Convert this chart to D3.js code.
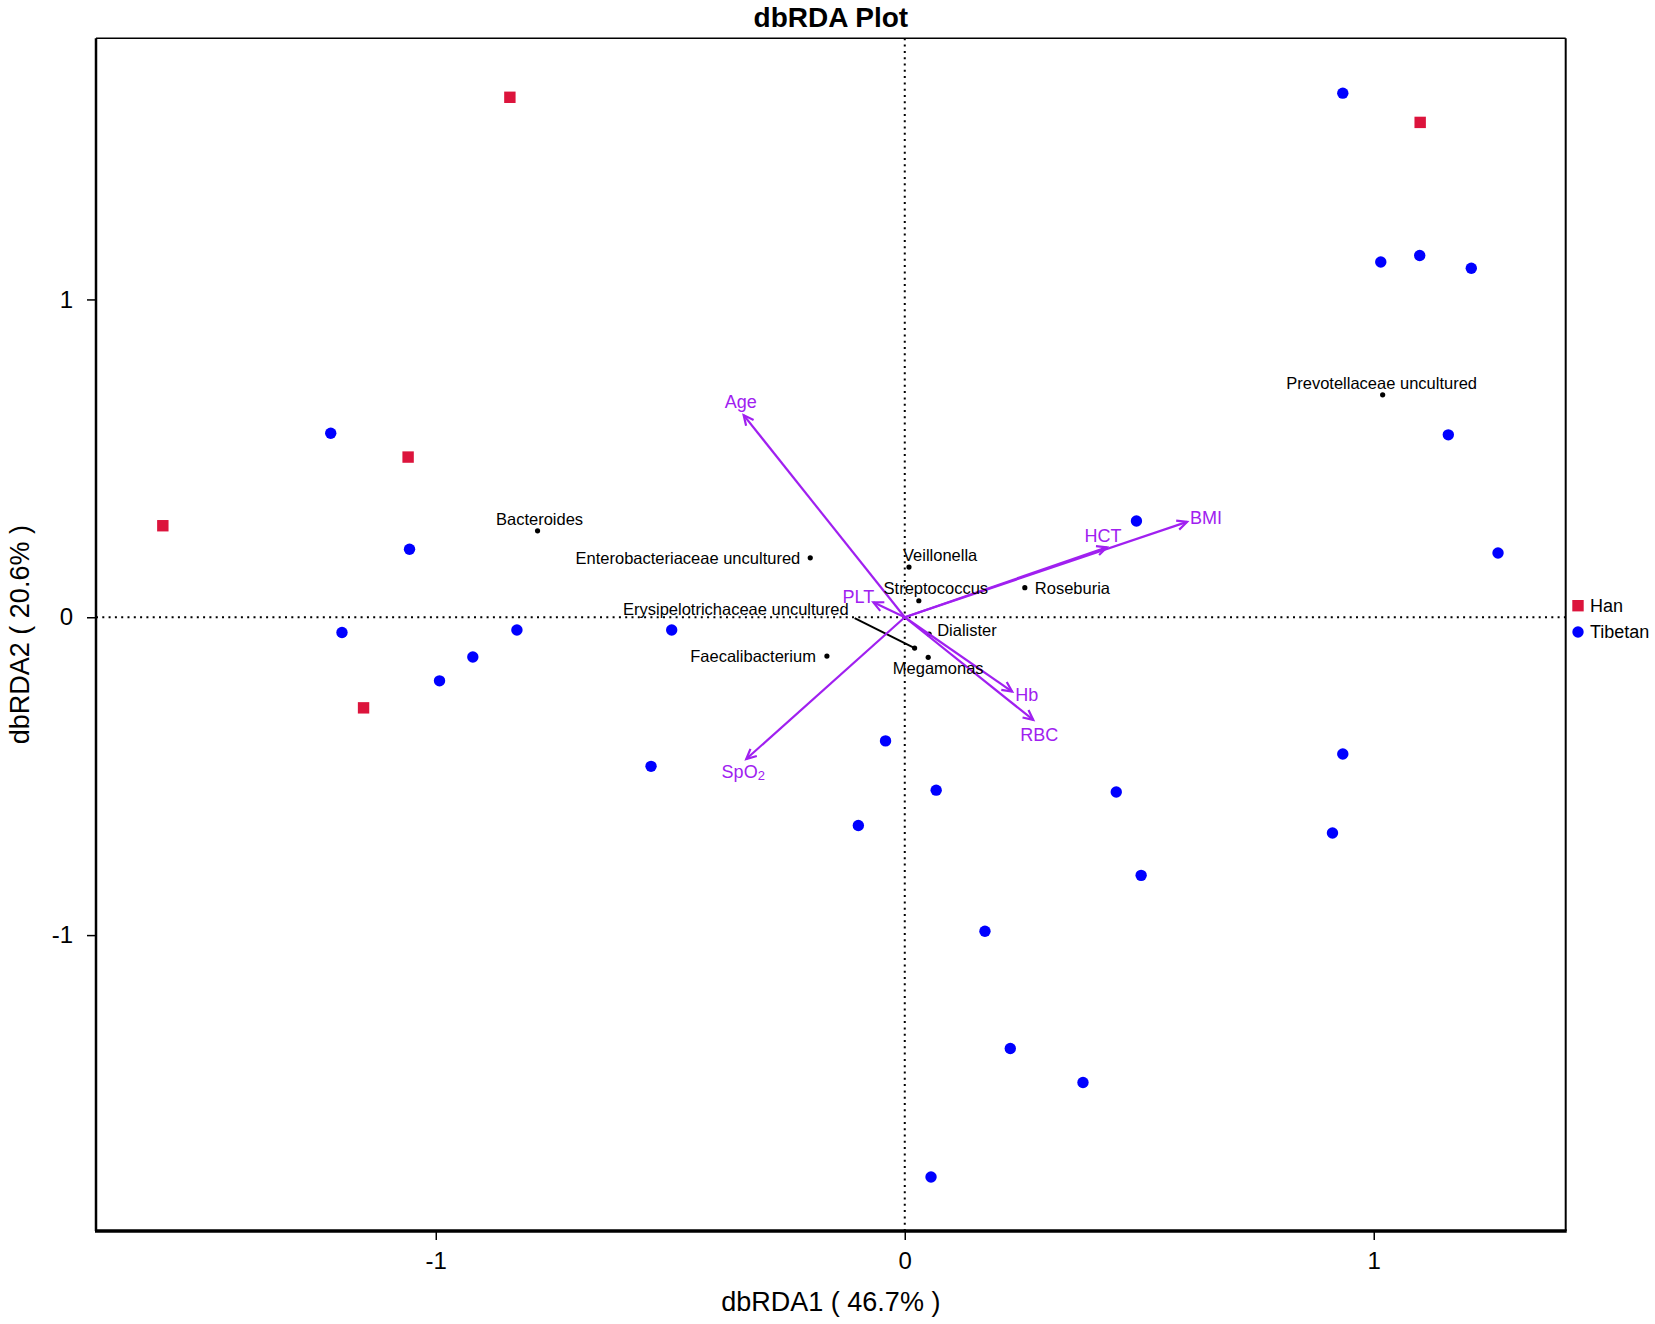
<!DOCTYPE html>
<html>
<head>
<meta charset="utf-8">
<script src="https://cdn.jsdelivr.net/npm/d3@7"></script>
<style>
  body { margin: 0; background: #fff; }
  svg text { font-family: "Liberation Sans", Arial, sans-serif; }
</style>
</head>
<body>
<svg id="chart" width="1655" height="1324"></svg>
<script>
// sample scores (dbRDA1, dbRDA2)
var hanX = [-0.842, 1.099, -1.059, -1.582, -1.154]
var hanY = [1.636, 1.557, 0.504, 0.288, -0.285]

var tibetanX = [0.934, 1.015, 1.098, 1.208, 1.159, 1.265, 0.494,
    -1.224, -1.056, -1.200, -0.827, -0.921, -0.992, -0.497, -0.541,
    -0.041, 0.067, -0.099, 0.451, 0.504, 0.934, 0.912, 0.171, 0.225, 0.380, 0.056]
var tibetanY = [1.649, 1.118, 1.138, 1.098, 0.574, 0.202, 0.303,
    0.579, 0.214, -0.048, -0.040, -0.125, -0.200, -0.040, -0.469,
    -0.389, -0.544, -0.655, -0.550, -0.812, -0.430, -0.679, -0.988, -1.357, -1.464, -1.761]

// environmental factor arrows
var envNames = ['Age', 'BMI', 'HCT', 'PLT', 'Hb', 'RBC', 'SpO2']
var envX = [-0.3435, 0.602, 0.431, -0.067, 0.229, 0.274, -0.338]
var envY = [0.636, 0.300, 0.220, 0.047, -0.234, -0.323, -0.446]

// genus scores
var genusNames = ['Bacteroides', 'Enterobacteriaceae uncultured', 'Veillonella', 'Streptococcus',
    'Roseburia', 'Dialister', 'Erysipelotrichaceae uncultured', 'Megamonas',
    'Faecalibacterium', 'Prevotellaceae uncultured']
var genusX = [-0.783, -0.2015, 0.009, 0.030, 0.256, 0.052, 0.021, 0.050, -0.166, 1.019]
var genusY = [0.272, 0.187, 0.158, 0.052, 0.093, -0.053, -0.097, -0.126, -0.122, 0.700]

var xTicks = [-1, 0, 1]
var yTicks = [-1, 0, 1]
var xDomain = [-1.7245, 1.4093]
var yDomain = [-1.931, 1.8216]

var groups = ['Han', 'Tibetan']
var groupColors = ['#DC143C', '#0000FF']
var purple = '#A020F0'

// label placement relative to the mark (px)
var envLabelPos = {
    Age: [-3, -13, 'middle'], BMI: [3, -4, 'start'], HCT: [-4, -11, 'middle'],
    PLT: [-15, -5, 'middle'], Hb: [3, 3, 'start'], RBC: [6, 15, 'middle'], SpO2: [-3, 13, 'middle']
}
var genusLabelPos = {
    'Bacteroides': [2, -12, 'middle'],
    'Enterobacteriaceae uncultured': [-10, 0, 'end'],
    'Veillonella': [-6, -12, 'start'],
    'Streptococcus': [17, -13, 'middle'],
    'Roseburia': [10, 0, 'start'],
    'Dialister': [8, -4, 'start'],
    'Erysipelotrichaceae uncultured': [-66, -39, 'end'],
    'Megamonas': [10, 11, 'middle'],
    'Faecalibacterium': [-11, 0, 'end'],
    'Prevotellaceae uncultured': [-1, -12, 'middle']
}

var plotLeft = 96, plotRight = 1565.7, plotTop = 38.3, plotBottom = 1231

var svg = d3.select('#chart')

var xScale = d3.scaleLinear().domain(xDomain).range([plotLeft, plotRight])
var yScale = d3.scaleLinear().domain(yDomain).range([plotBottom, plotTop])

// reference lines through the origin
svg.append('line')
    .attr('x1', plotLeft).attr('x2', plotRight)
    .attr('y1', yScale(0)).attr('y2', yScale(0))
    .style('stroke', '#000').style('stroke-width', 2)
    .style('stroke-dasharray', '2,4.3')
svg.append('line')
    .attr('x1', xScale(0)).attr('x2', xScale(0))
    .attr('y1', plotTop).attr('y2', plotBottom)
    .style('stroke', '#000').style('stroke-width', 2)
    .style('stroke-dasharray', '2,4.3')

// axes
var fmt = function (d) { return String(d) }
var xAxis = svg.append('g')
    .attr('transform', 'translate(0,' + plotBottom + ')')
    .call(d3.axisBottom(xScale).tickValues(xTicks).tickFormat(fmt).tickSize(9).tickPadding(12).tickSizeOuter(0))
var yAxis = svg.append('g')
    .attr('transform', 'translate(' + plotLeft + ',0)')
    .call(d3.axisLeft(yScale).tickValues(yTicks).tickFormat(fmt).tickSize(9).tickPadding(14).tickSizeOuter(0))
xAxis.select('.domain').remove()
yAxis.select('.domain').remove()
svg.selectAll('.tick line').style('stroke', '#000').style('stroke-width', 1.5)
svg.selectAll('.tick text').style('font-size', '24px').style('fill', '#000')
    .style('font-family', '"Liberation Sans", Arial, sans-serif')

// frame
svg.append('line').attr('x1', plotLeft).attr('x2', plotRight).attr('y1', plotTop).attr('y2', plotTop)
    .style('stroke', '#000').style('stroke-width', 1.6)
svg.append('line').attr('x1', plotRight).attr('x2', plotRight).attr('y1', plotTop).attr('y2', plotBottom)
    .style('stroke', '#000').style('stroke-width', 2)
svg.append('line').attr('x1', plotLeft).attr('x2', plotLeft).attr('y1', plotTop).attr('y2', plotBottom)
    .style('stroke', '#000').style('stroke-width', 2.5)
svg.append('line').attr('x1', plotLeft - 1).attr('x2', plotRight + 1).attr('y1', plotBottom).attr('y2', plotBottom)
    .style('stroke', '#000').style('stroke-width', 3.5)

// genus dots (under the arrows)
var genusDots = svg.append('g')
var genusText = null
genusNames.forEach(function (name, i) {
    var gx = xScale(genusX[i]), gy = yScale(genusY[i])
    if (name === 'Erysipelotrichaceae uncultured') {
        genusDots.append('line')
            .attr('x1', gx - 60).attr('y1', gy - 30).attr('x2', gx).attr('y2', gy)
            .style('stroke', '#000').style('stroke-width', 2)
    }
    genusDots.append('circle')
        .attr('cx', gx).attr('cy', gy).attr('r', 2.6)
        .style('fill', '#000')
})

// env arrows
var arrows = svg.append('g')
envNames.forEach(function (name, i) {
    var x0 = xScale(0), y0 = yScale(0)
    var x1 = xScale(envX[i]), y1 = yScale(envY[i])
    var ang = Math.atan2(y1 - y0, x1 - x0)
    var head = 11, spread = Math.PI / 7
    arrows.append('line')
        .attr('x1', x0).attr('y1', y0).attr('x2', x1).attr('y2', y1)
        .style('stroke', purple).style('stroke-width', 2.2)
    arrows.append('path')
        .attr('d', 'M' + (x1 - head * Math.cos(ang - spread)) + ',' + (y1 - head * Math.sin(ang - spread)) +
            'L' + x1 + ',' + y1 +
            'L' + (x1 - head * Math.cos(ang + spread)) + ',' + (y1 - head * Math.sin(ang + spread)))
        .style('fill', 'none').style('stroke', purple).style('stroke-width', 2.2)
    var p = envLabelPos[name]
    var t = arrows.append('text')
        .attr('x', x1 + p[0]).attr('y', y1 + p[1])
        .attr('text-anchor', p[2])
        .attr('dominant-baseline', 'central')
        .style('font-size', '18px').style('fill', purple)
    if (name === 'SpO2') {
        t.append('tspan').text('SpO')
        t.append('tspan').attr('baseline-shift', '-25%').style('font-size', '13px').text('2')
    } else {
        t.text(name)
    }
})

// genus labels
genusText = svg.append('g')
genusNames.forEach(function (name, i) {
    var p = genusLabelPos[name]
    genusText.append('text')
        .attr('x', xScale(genusX[i]) + p[0]).attr('y', yScale(genusY[i]) + p[1])
        .attr('text-anchor', p[2])
        .attr('dominant-baseline', 'central')
        .style('font-size', '16.5px').style('fill', '#000')
        .text(name)
})

// samples
var samples = svg.append('g')
samples.selectAll('rect')
    .data(hanX)
    .enter()
    .append('rect')
    .attr('x', function (d) { return xScale(d) - 5.7 })
    .attr('y', function (d, i) { return yScale(hanY[i]) - 5.7 })
    .attr('width', 11.4).attr('height', 11.4)
    .style('fill', groupColors[0])
samples.selectAll('circle')
    .data(tibetanX)
    .enter()
    .append('circle')
    .attr('cx', function (d) { return xScale(d) })
    .attr('cy', function (d, i) { return yScale(tibetanY[i]) })
    .attr('r', 5.7)
    .style('fill', groupColors[1])

// titles
svg.append('text')
    .attr('x', (plotLeft + plotRight) / 2).attr('y', 27)
    .attr('text-anchor', 'middle')
    .style('font-size', '28px').style('font-weight', 'bold')
    .text('dbRDA Plot')
svg.append('text')
    .attr('x', (plotLeft + plotRight) / 2).attr('y', 1311)
    .attr('text-anchor', 'middle')
    .style('font-size', '27px')
    .text('dbRDA1 ( 46.7% )')
svg.append('text')
    .attr('transform', 'translate(29,' + ((plotTop + plotBottom) / 2) + ') rotate(-90)')
    .attr('text-anchor', 'middle')
    .style('font-size', '27px')
    .text('dbRDA2 ( 20.6% )')

// legend
var legend = svg.append('g')
groups.forEach(function (g, i) {
    var ly = 605.7 + i * 26.3
    if (i === 0) {
        legend.append('rect').attr('x', 1572.3).attr('y', ly - 5.7)
            .attr('width', 11.4).attr('height', 11.4).style('fill', groupColors[i])
    } else {
        legend.append('circle').attr('cx', 1578).attr('cy', ly).attr('r', 5.7)
            .style('fill', groupColors[i])
    }
    legend.append('text').attr('x', 1590).attr('y', ly)
        .attr('dominant-baseline', 'central')
        .style('font-size', '18px')
        .text(g)
})
</script>
</body>
</html>
